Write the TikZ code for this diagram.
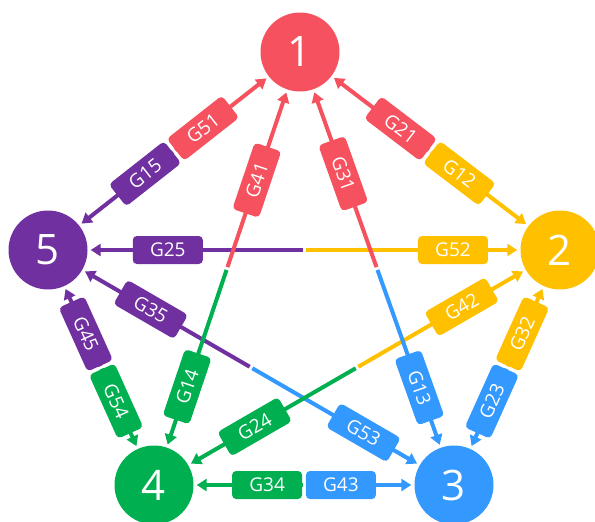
\documentclass[tikz,border=0pt]{standalone}
\usepackage{fontspec}
\setmainfont{Open Sans}
\usetikzlibrary{arrows.meta,calc}

\definecolor{cred}{HTML}{F5515F}
\definecolor{cyel}{HTML}{FFC000}
\definecolor{cblu}{HTML}{3399FF}
\definecolor{cgrn}{HTML}{00B050}
\definecolor{cpur}{HTML}{7030A0}

\pgfdeclarelayer{lines}
\pgfsetlayers{lines,main}

\tikzset{
  vert/.style={circle, minimum size=79pt, inner sep=0pt, fill=#1, text=white,
    font=\fontsize{42}{42}\selectfont},
  half/.style={draw=#1, line width=4pt, shorten <=1.5pt, shorten >=3pt,
    -{Triangle[length=10pt,width=12pt]}},
  gain/.style={fill=#1, text=white, rounded corners=4pt, minimum width=70pt,
    minimum height=28pt, inner sep=0pt, font=\fontsize{19}{19}\selectfont, sloped},
}

% \pairlink{a}{b}{colour a}{colour b}{label near a}{label near b}{pos near a}{pos near b}
% each half of the link is coloured like the node it points into
\newcommand\pairlink[8]{%
  \coordinate (m#1#2) at ($(n#1)!0.5!(n#2)$);
  \begin{pgfonlayer}{lines}
    \draw[half=#3] (m#1#2) -- (n#1);
    \draw[half=#4] (m#1#2) -- (n#2);
  \end{pgfonlayer}
  \path (n#1.center) -- (n#2.center)
    node[gain=#3, pos=#7] (g#5) {G#5}
    node[gain=#4, pos=#8] (g#6) {G#6};
}

\begin{document}
\begin{tikzpicture}[x=1pt, y=-1pt]
  \useasboundingbox (0,0) rectangle (595,522);

  \node[vert=cred] (n1) at (300,52)  {1};
  \node[vert=cyel] (n2) at (560,250) {2};
  \node[vert=cblu] (n3) at (454,485) {3};
  \node[vert=cgrn] (n4) at (154,485) {4};
  \node[vert=cpur] (n5) at (48,250)  {5};

  % diagonals
  \pairlink{2}{5}{cyel}{cpur}{52}{25}{0.209}{0.766}
  \pairlink{3}{5}{cblu}{cpur}{53}{35}{0.223}{0.747}
  \pairlink{2}{4}{cyel}{cgrn}{42}{24}{0.242}{0.752}
  \pairlink{1}{4}{cred}{cgrn}{41}{14}{0.296}{0.773}
  \pairlink{1}{3}{cred}{cblu}{31}{13}{0.281}{0.775}

  % outer sides
  \pairlink{1}{2}{cred}{cyel}{21}{12}{0.387}{0.613}
  \pairlink{2}{3}{cyel}{cblu}{32}{23}{0.357}{0.643}
  \pairlink{4}{3}{cgrn}{cblu}{34}{43}{0.377}{0.623}
  \pairlink{5}{4}{cpur}{cgrn}{45}{54}{0.357}{0.643}
  \pairlink{1}{5}{cred}{cpur}{51}{15}{0.385}{0.615}
\end{tikzpicture}
\end{document}
